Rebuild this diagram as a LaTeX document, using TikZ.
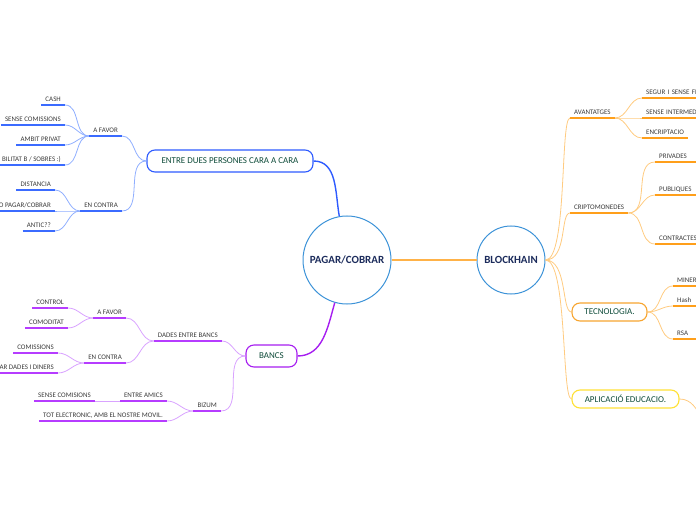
\documentclass[tikz,border=0pt]{standalone}
\usepackage{fontspec}
\setmainfont{Carlito}

\tikzset{
    leaf/.style={font=\fontsize{7}{8}\selectfont, text=labelColour, inner xsep=4bp, inner ysep=3.5bp, text height=4.6bp, text depth=0pt},
    edgeleaf/.style={leaf, text width=60bp, align=left},
    topic/.style={draw, rounded corners=8bp, line width=1.1bp, fill=white, text=topicText, font=\fontsize{9}{10}\selectfont, minimum height=22bp, inner sep=0pt},
    hub/.style={circle, draw=circleBorder, line width=1bp, fill=white, text=hubText, font=\fontsize{11}{12}\selectfont\bfseries, inner sep=0pt},
    hublink/.style={draw=orangeSoft, line width=0.8bp, out=0, in=180, out distance=22bp, in distance=10bp},
}

\begin{document}
\begin{tikzpicture}[x=1bp,y=-1bp]
    % Define colours
    \definecolor{labelColour}{HTML}{3A3A3A}
    \definecolor{topicText}{HTML}{0F4C3A}
    \definecolor{hubText}{HTML}{1C2C5C}
    \definecolor{circleBorder}{HTML}{3D93D8}
    \definecolor{blueBorder}{HTML}{2E5BFF}
    \definecolor{blueLine}{HTML}{3B6BFF}
    \definecolor{blueSoft}{HTML}{8FAEFF}
    \definecolor{purpleBorder}{HTML}{A61EF0}
    \definecolor{purpleLine}{HTML}{B63CFF}
    \definecolor{purpleSoft}{HTML}{D9A3FF}
    \definecolor{orangeBorder}{HTML}{F7A530}
    \definecolor{orangeLine}{HTML}{FF9F1A}
    \definecolor{orangeSoft}{HTML}{FFCB80}
    \definecolor{yellowBorder}{HTML}{FFE135}

    % Page frame
    \clip (0,0) rectangle (696,520);

    % Central ideas
    \node[hub, minimum size=88bp] (pagar) at (347,260) {PAGAR/COBRAR};
    \node[hub, minimum size=68bp] (block) at (511,260) {BLOCKHAIN};

    % Blue branch
    \node[topic, draw=blueBorder, minimum width=166bp] (entre) at (230,161) {ENTRE DUES PERSONES CARA A CARA};
    \node[leaf, anchor=south east] (favorA) at (122,136) {A FAVOR};
    \node[leaf, anchor=south east] (contraA) at (122,211) {EN CONTRA};
    \node[leaf, anchor=south east] (cash) at (65,105) {CASH};
    \node[leaf, anchor=south east] (sensecom) at (65,125) {SENSE COMISSIONS};
    \node[leaf, anchor=south east] (ambit) at (65,145) {AMBIT PRIVAT};
    \node[leaf, anchor=south east] (sobres) at (65,165) {BILITAT B / SOBRES :)};
    \node[leaf, anchor=south east] (distancia) at (55,190) {DISTANCIA};
    \node[leaf, anchor=south east] (nopagar) at (55,211) {O PAGAR/COBRAR};
    \node[leaf, anchor=south east] (antic) at (55,231) {ANTIC??};

    % Purple branch
    \node[topic, draw=purpleBorder, minimum width=51bp] (bancs) at (271.5,356) {BANCS};
    \node[leaf, anchor=south east] (dades) at (222,341) {DADES ENTRE BANCS};
    \node[leaf, anchor=south east] (favorB) at (126,318) {A FAVOR};
    \node[leaf, anchor=south east] (contraB) at (126,363) {EN CONTRA};
    \node[leaf, anchor=south east] (control) at (68,308) {CONTROL};
    \node[leaf, anchor=south east] (comoditat) at (68,328) {COMODITAT};
    \node[leaf, anchor=south east] (comissions) at (58,353) {COMISSIONS};
    \node[leaf, anchor=south east] (compartir) at (58,373) {AR DADES I DINERS};
    \node[leaf, anchor=south east] (bizum) at (221,411) {BIZUM};
    \node[leaf, anchor=south east] (amics) at (167,401) {ENTRE AMICS};
    \node[leaf, anchor=south east] (sensecomB) at (95,401) {SENSE COMISIONS};
    \node[leaf, anchor=south east] (movil) at (167,421) {TOT ELECTRONIC, AMB EL NOSTRE MOVIL.};

    % Orange branch
    \node[leaf, anchor=south west] (avant) at (570,118) {AVANTATGES};
    \node[edgeleaf, anchor=south west] (segur) at (642,98) {SEGUR I SENSE FR};
    \node[edgeleaf, anchor=south west] (intermed) at (642,118) {SENSE INTERMED};
    \node[leaf, anchor=south west] (encrip) at (642,138) {ENCRIPTACIO};
    \node[leaf, anchor=south west] (cripto) at (570,213) {CRIPTOMONEDES};
    \node[edgeleaf, anchor=south west] (privades) at (655,162) {PRIVADES};
    \node[edgeleaf, anchor=south west] (publiques) at (655,195) {PUBLIQUES};
    \node[edgeleaf, anchor=south west] (contractes) at (655,244) {CONTRACTES};
    \node[topic, draw=orangeBorder, minimum width=75bp, minimum height=18bp] (tecno) at (609.5,312) {TECNOLOGIA.};
    \node[edgeleaf, anchor=south west] (miner) at (673,286) {MINER};
    \node[edgeleaf, anchor=south west] (hash) at (673,306) {Hash};
    \node[edgeleaf, anchor=south west] (rsa) at (673,339) {RSA};
    \node[topic, draw=yellowBorder, minimum width=107bp, minimum height=18bp] (aplic) at (625.5,399) {APLICACIÓ EDUCACIO.};
    \coordinate (aplicNext) at (725,440);

    % Draw the main links
    \draw[blueBorder, line width=1.4bp] (entre.east) to[out=0,in=100] (pagar.100);
    \draw[purpleBorder, line width=1.4bp] (bancs.east) to[out=0,in=254] (pagar.254);
    \draw[orangeLine!80, line width=1.6bp] (pagar.east) -- (block.west);

    % Draw the blue links
    \foreach \n in {favorA,contraA}
        \draw[blueSoft, line width=0.8bp] (entre.west) to[out=180,in=0] (\n.south east);
    \foreach \n in {cash,sensecom,ambit,sobres}
        \draw[blueSoft, line width=0.8bp] (favorA.south west) to[out=180,in=0] (\n.south east);
    \foreach \n in {distancia,nopagar,antic}
        \draw[blueSoft, line width=0.8bp] (contraA.south west) to[out=180,in=0] (\n.south east);
    \foreach \n in {favorA,contraA,cash,sensecom,ambit,sobres,distancia,nopagar,antic}
        \draw[blueLine, line width=1.8bp] (\n.south west) -- (\n.south east);

    % Draw the purple links
    \foreach \n in {dades,bizum}
        \draw[purpleSoft, line width=0.8bp] (bancs.west) to[out=180,in=0] (\n.south east);
    \foreach \n in {favorB,contraB}
        \draw[purpleSoft, line width=0.8bp] (dades.south west) to[out=180,in=0] (\n.south east);
    \foreach \n in {control,comoditat}
        \draw[purpleSoft, line width=0.8bp] (favorB.south west) to[out=180,in=0] (\n.south east);
    \foreach \n in {comissions,compartir}
        \draw[purpleSoft, line width=0.8bp] (contraB.south west) to[out=180,in=0] (\n.south east);
    \foreach \n in {amics,movil}
        \draw[purpleSoft, line width=0.8bp] (bizum.south west) to[out=180,in=0] (\n.south east);
    \draw[purpleSoft, line width=0.8bp] (amics.south west) -- (sensecomB.south east);
    \foreach \n in {dades,favorB,contraB,control,comoditat,comissions,compartir,bizum,amics,sensecomB,movil}
        \draw[purpleLine, line width=1.8bp] (\n.south west) -- (\n.south east);

    % Draw the orange links
    \foreach \n in {avant.south west,cripto.south west,tecno.west,aplic.west}
        \draw[hublink] (block.east) to (\n);
    \foreach \n in {segur,intermed,encrip}
        \draw[orangeSoft, line width=0.8bp] (avant.south east) to[out=0,in=180] (\n.south west);
    \foreach \n in {privades,publiques,contractes}
        \draw[orangeSoft, line width=0.8bp] (cripto.south east) to[out=0,in=180] (\n.south west);
    \foreach \n in {miner,hash,rsa}
        \draw[orangeSoft, line width=0.8bp] (tecno.east) to[out=0,in=180] (\n.south west);
    \draw[orangeSoft, line width=0.8bp] (aplic.east) to[out=0,in=180] (aplicNext);
    \foreach \n in {avant,segur,intermed,encrip,cripto,privades,publiques,contractes,miner,hash,rsa}
        \draw[orangeLine, line width=1.8bp] (\n.south west) -- (\n.south east);

\end{tikzpicture}
\end{document}
